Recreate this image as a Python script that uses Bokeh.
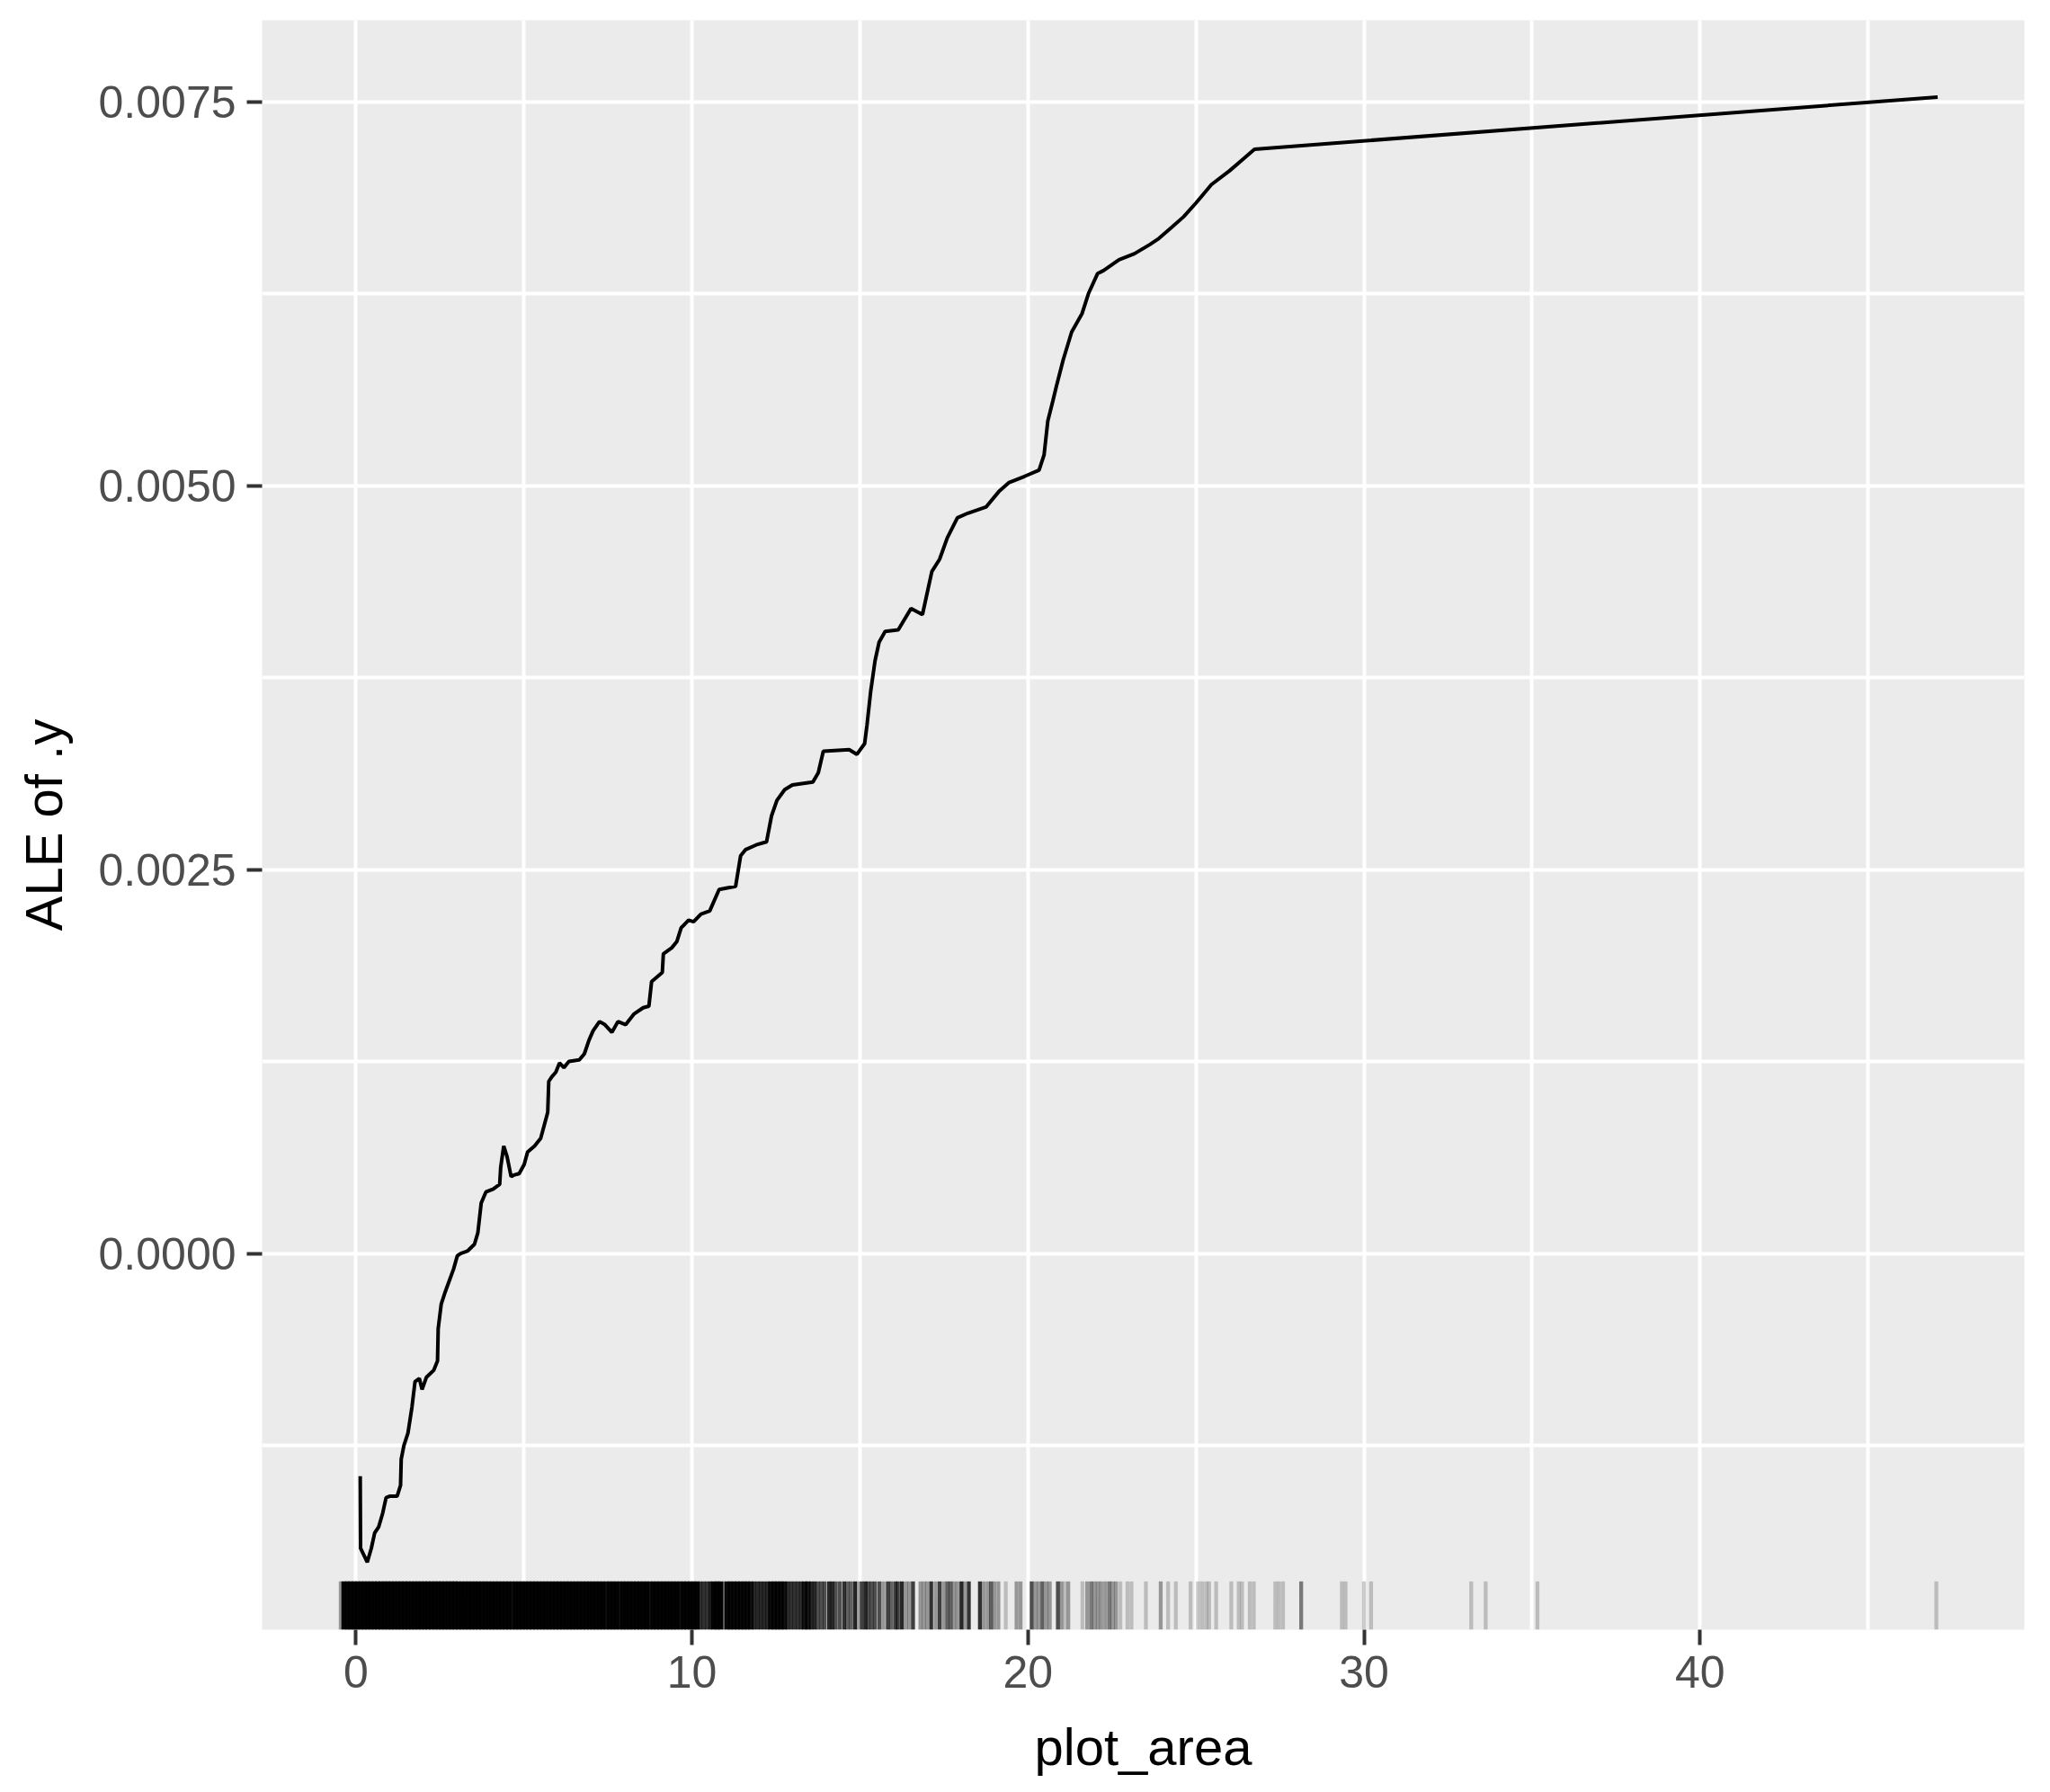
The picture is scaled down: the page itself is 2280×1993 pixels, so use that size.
from bokeh.plotting import figure
from bokeh.models import Range1d, FixedTicker, ColumnDataSource
from bokeh.embed import file_html
from bokeh.resources import INLINE

# ---- data ----
ale_x = [0.13, 0.14, 0.34, 0.46, 0.56, 0.68, 0.80, 0.90, 1.02, 1.23, 1.33, 1.35, 1.43, 1.55,
         1.67, 1.76, 1.89, 1.97, 2.10, 2.32, 2.43, 2.45, 2.54, 2.66, 2.76, 2.91, 3.02, 3.12,
         3.32, 3.53, 3.63, 3.73, 3.87, 4.09, 4.28, 4.31, 4.40, 4.50, 4.62, 4.70, 4.86, 5.01,
         5.11, 5.32, 5.50, 5.60, 5.71, 5.74, 5.83, 5.95, 6.06, 6.19, 6.34, 6.65, 6.80, 6.94,
         7.06, 7.25, 7.41, 7.62, 7.80, 8.03, 8.28, 8.55, 8.72, 8.80, 9.12, 9.15, 9.40, 9.55,
         9.68, 9.90, 10.05, 10.27, 10.53, 10.81, 11.30, 11.45, 11.60, 11.91, 12.22, 12.37,
         12.53, 12.76, 12.99, 13.60, 13.76, 13.91, 14.68, 14.91, 15.14, 15.21, 15.32, 15.45,
         15.57, 15.75, 16.14, 16.52, 16.86, 16.98, 17.14, 17.37, 17.60, 17.90, 18.21, 18.75,
         19.13, 19.44, 19.90, 20.33, 20.48, 20.59, 20.74, 20.85, 21.05, 21.30, 21.61, 21.80,
         22.07, 22.25, 22.71, 23.17, 23.63, 23.90, 24.27, 24.63, 25.00, 25.46, 26.00, 26.37,
         26.74, 47.07]
ale_y = [-0.00145, -0.00192, -0.00201, -0.00192, -0.00182, -0.00178, -0.00169, -0.00159,
         -0.00158, -0.00158, -0.00151, -0.00134, -0.00125, -0.00117, -0.00100, -0.000835,
         -0.000814, -0.000886, -0.000806, -0.00076, -0.00070, -0.00049, -0.00033, -0.00025,
         -0.00019, -0.00010, -0.000015, 0.0, 0.000015, 0.00006, 0.000134, 0.000328, 0.00040,
         0.00042, 0.00045, 0.00056, 0.00070, 0.00063, 0.00050, 0.00051, 0.00052, 0.00058,
         0.00066, 0.00070, 0.00075, 0.00083, 0.00092, 0.00112, 0.00115, 0.00118, 0.00124,
         0.00121, 0.00125, 0.00126, 0.00130, 0.00139, 0.00145, 0.00151, 0.00149, 0.00144,
         0.00151, 0.00149, 0.00156, 0.00160, 0.00161, 0.00177, 0.00183, 0.00195, 0.00199,
         0.00203, 0.00212, 0.00217, 0.00216, 0.00221, 0.00223, 0.00237, 0.00239, 0.00259,
         0.00263, 0.00266, 0.00268, 0.00285, 0.00295, 0.00302, 0.00305, 0.00307, 0.00313,
         0.00327, 0.00328, 0.00325, 0.00332, 0.00344, 0.00366, 0.00386, 0.00398, 0.00405,
         0.00406, 0.00420, 0.00416, 0.00428, 0.00444, 0.00452, 0.00466, 0.00479, 0.00482,
         0.00486, 0.00496, 0.00502, 0.00506, 0.00510, 0.00520, 0.00542, 0.00555, 0.00565,
         0.00582, 0.00600, 0.00612, 0.00625, 0.00638, 0.00640, 0.00647, 0.00651, 0.00657,
         0.00661, 0.00668, 0.00675, 0.00684, 0.00696, 0.00705, 0.00712, 0.00719, 0.00753]

# rug: observed plot_area values and how many observations fall on each
rug_x = [-0.45, -0.35, -0.25, -0.15, -0.05, 0.05, 0.15, 0.25, 0.35, 0.45, 0.55, 0.65, 0.75, 0.85, 0.95,
         1.05, 1.15, 1.25, 1.35, 1.45, 1.55, 1.65, 1.75, 1.85, 1.95,
         2.05, 2.15, 2.25, 2.35, 2.45, 2.55, 2.65, 2.75, 2.85, 2.95,
         3.05, 3.15, 3.25, 3.35, 3.45, 3.55, 3.65, 3.75, 3.85, 3.95,
         4.05, 4.15, 4.25, 4.35, 4.45, 4.55, 4.65, 4.75, 4.85, 4.95,
         5.05, 5.15, 5.25, 5.35, 5.45, 5.55, 5.65, 5.75, 5.85, 5.95,
         6.05, 6.15, 6.25, 6.35, 6.45, 6.55, 6.65, 6.75, 6.85, 6.95,
         7.05, 7.15, 7.25, 7.35, 7.45, 7.55, 7.65, 7.75, 7.85, 7.95,
         8.05, 8.15, 8.25, 8.35, 8.45, 8.55, 8.65, 8.75, 8.85, 8.95,
         9.05, 9.15, 9.25, 9.35, 9.45, 9.55, 9.65, 9.75, 9.85, 9.95,
         10.05, 10.15, 10.25, 10.35, 10.45, 10.55, 10.65, 10.75, 10.85, 10.95,
         11.05, 11.15, 11.25, 11.35, 11.45, 11.55, 11.65, 11.75, 11.85, 11.95,
         12.05, 12.15, 12.25, 12.35, 12.45, 12.55, 12.65, 12.75, 12.85, 12.95,
         13.05, 13.15, 13.25, 13.35, 13.45, 13.55, 13.65, 13.75, 13.85, 13.95,
         14.08, 14.18, 14.28, 14.40, 14.53, 14.63, 14.73, 14.85, 14.93,
         15.05, 15.16, 15.25, 15.35, 15.45, 15.58, 15.70, 15.83, 15.93,
         16.05, 16.13, 16.25, 16.37, 16.47, 16.58, 16.80, 16.90,
         17.00, 17.12, 17.25, 17.37, 17.49, 17.60, 17.70, 17.80, 17.90,
         18.02, 18.12, 18.24, 18.57, 18.68, 18.80, 18.90,
         19.00, 19.12, 19.34, 19.66, 19.78,
         20.11, 20.22, 20.32, 20.43, 20.55, 20.65, 20.89, 20.99,
         21.09, 21.20, 21.62, 21.76, 21.88, 21.98,
         22.08, 22.18, 22.30, 22.42, 22.52, 22.62, 22.75, 22.96,
         23.08, 23.51, 23.95, 24.17, 24.40, 24.84,
         25.06, 25.18, 25.30, 25.39, 25.60, 26.05, 26.27, 26.37, 26.60, 26.72,
         27.36, 27.47, 27.59, 28.13, 29.34, 29.45, 30.00, 30.21, 33.19, 33.62, 35.16, 47.03]
rug_n = [2, 20, 20, 20, 20, 20, 20, 20, 20, 20, 20, 20, 20, 20, 20,
         20, 20, 20, 20, 20, 20, 20, 20, 20, 20,
         20, 20, 20, 20, 20, 20, 20, 20, 20, 20,
         20, 20, 20, 20, 20, 20, 20, 20, 20, 20,
         20, 20, 20, 20, 20, 20, 12, 20, 20, 20,
         20, 20, 20, 20, 20, 20, 20, 20, 20, 20,
         20, 20, 20, 20, 20, 20, 20, 20, 20, 20,
         20, 20, 20, 20, 12, 20, 20, 20, 12, 20,
         20, 20, 20, 20, 20, 20, 20, 12, 20, 20,
         20, 20, 20, 20, 20, 20, 12, 20, 20, 20,
         20, 20, 7, 7, 7, 9, 20, 20, 20, 3,
         15, 15, 15, 15, 15, 15, 15, 12, 8, 8,
         8, 8, 8, 14, 14, 14, 14, 12, 7, 7,
         7, 7, 7, 11, 11, 8, 8, 5, 5, 5,
         8, 8, 5, 5, 7, 4, 4, 8, 2,
         6, 8, 5, 5, 5, 5, 2, 6, 4,
         6, 6, 8, 2, 2, 6, 2, 2,
         2, 7, 2, 6, 2, 4, 4, 2, 2,
         8, 2, 7, 7, 2, 2, 4,
         2, 2, 1, 2, 2,
         5, 2, 2, 4, 2, 2, 5, 2,
         1, 2, 1, 2, 3, 2,
         2, 2, 2, 3, 2, 2, 1, 1,
         1, 1, 2, 1, 1, 1,
         1, 1, 1, 1, 1, 1, 1, 1, 1, 1,
         1, 1, 1, 3, 1, 1, 1, 1, 1, 1, 1, 1]

x_ticks = [0, 10, 20, 30, 40]
x_minor = [5, 15, 25, 35, 45]
y_ticks = [0.0, 0.0025, 0.005, 0.0075]
y_tick_labels = ["0.0000", "0.0025", "0.0050", "0.0075"]
y_minor = [-0.00125, 0.00125, 0.00375, 0.00625]
x_label = "plot_area"
y_label = "ALE of .y"

# ---- layout ----
X0, X1 = -2.79, 49.65
Y0, Y1 = -0.00245, 0.00803
RUG_FRAC = 0.03
FONT = "Liberation Sans"

p = figure(frame_width=1960, frame_height=1790,
           x_range=Range1d(X0, X1), y_range=Range1d(Y0, Y1),
           output_backend="svg", toolbar_location=None,
           min_border_left=291, min_border_right=29,
           min_border_top=22, min_border_bottom=181)
p.background_fill_color = "#EBEBEB"
p.border_fill_color = "white"
p.outline_line_color = None

# rug (stacked observations merge into a solid band)
rug_top = Y0 + RUG_FRAC * (Y1 - Y0)
src = ColumnDataSource(dict(
    x=rug_x,
    y0=[Y0] * len(rug_x),
    y1=[rug_top] * len(rug_x),
    a=[1 - 0.8 ** n for n in rug_n],
    w=[6.0 if n >= 10 else 4.3 for n in rug_n],
))
p.segment(x0="x", y0="y0", x1="x", y1="y1", source=src,
          line_color="black", line_alpha="a", line_width="w", line_cap="butt")

# ALE curve
p.line(ale_x, ale_y, line_color="black", line_width=4)

# axes
p.xaxis.ticker = FixedTicker(ticks=x_ticks, minor_ticks=x_minor)
p.yaxis.ticker = FixedTicker(ticks=y_ticks, minor_ticks=y_minor)
p.yaxis.major_label_overrides = {t: l for t, l in zip(y_ticks, y_tick_labels)}
p.xaxis.major_label_overrides = {t: str(t) for t in x_ticks}

for ax in (p.xaxis[0], p.yaxis[0]):
    ax.axis_line_color = None
    ax.minor_tick_line_color = None
    ax.major_tick_line_color = "#333333"
    ax.major_tick_line_width = 4
    ax.major_tick_out = 17
    ax.major_tick_in = 0
    ax.major_label_text_font = FONT
    ax.major_label_text_font_size = "50px"
    ax.major_label_text_color = "#4D4D4D"
    ax.axis_label_text_font = FONT
    ax.axis_label_text_font_size = "58px"
    ax.axis_label_text_font_style = "normal"
    ax.axis_label_text_color = "black"

p.xaxis.axis_label = x_label
p.yaxis.axis_label = y_label
p.xaxis.major_label_standoff = 12
p.yaxis.major_label_standoff = 12
p.xaxis.axis_label_standoff = 30
p.yaxis.axis_label_standoff = 26

for g in (p.xgrid[0], p.ygrid[0]):
    g.grid_line_color = "white"
    g.grid_line_width = 4
    g.minor_grid_line_color = "white"
    g.minor_grid_line_width = 4

open("out.html", "w").write(file_html(p, INLINE))
